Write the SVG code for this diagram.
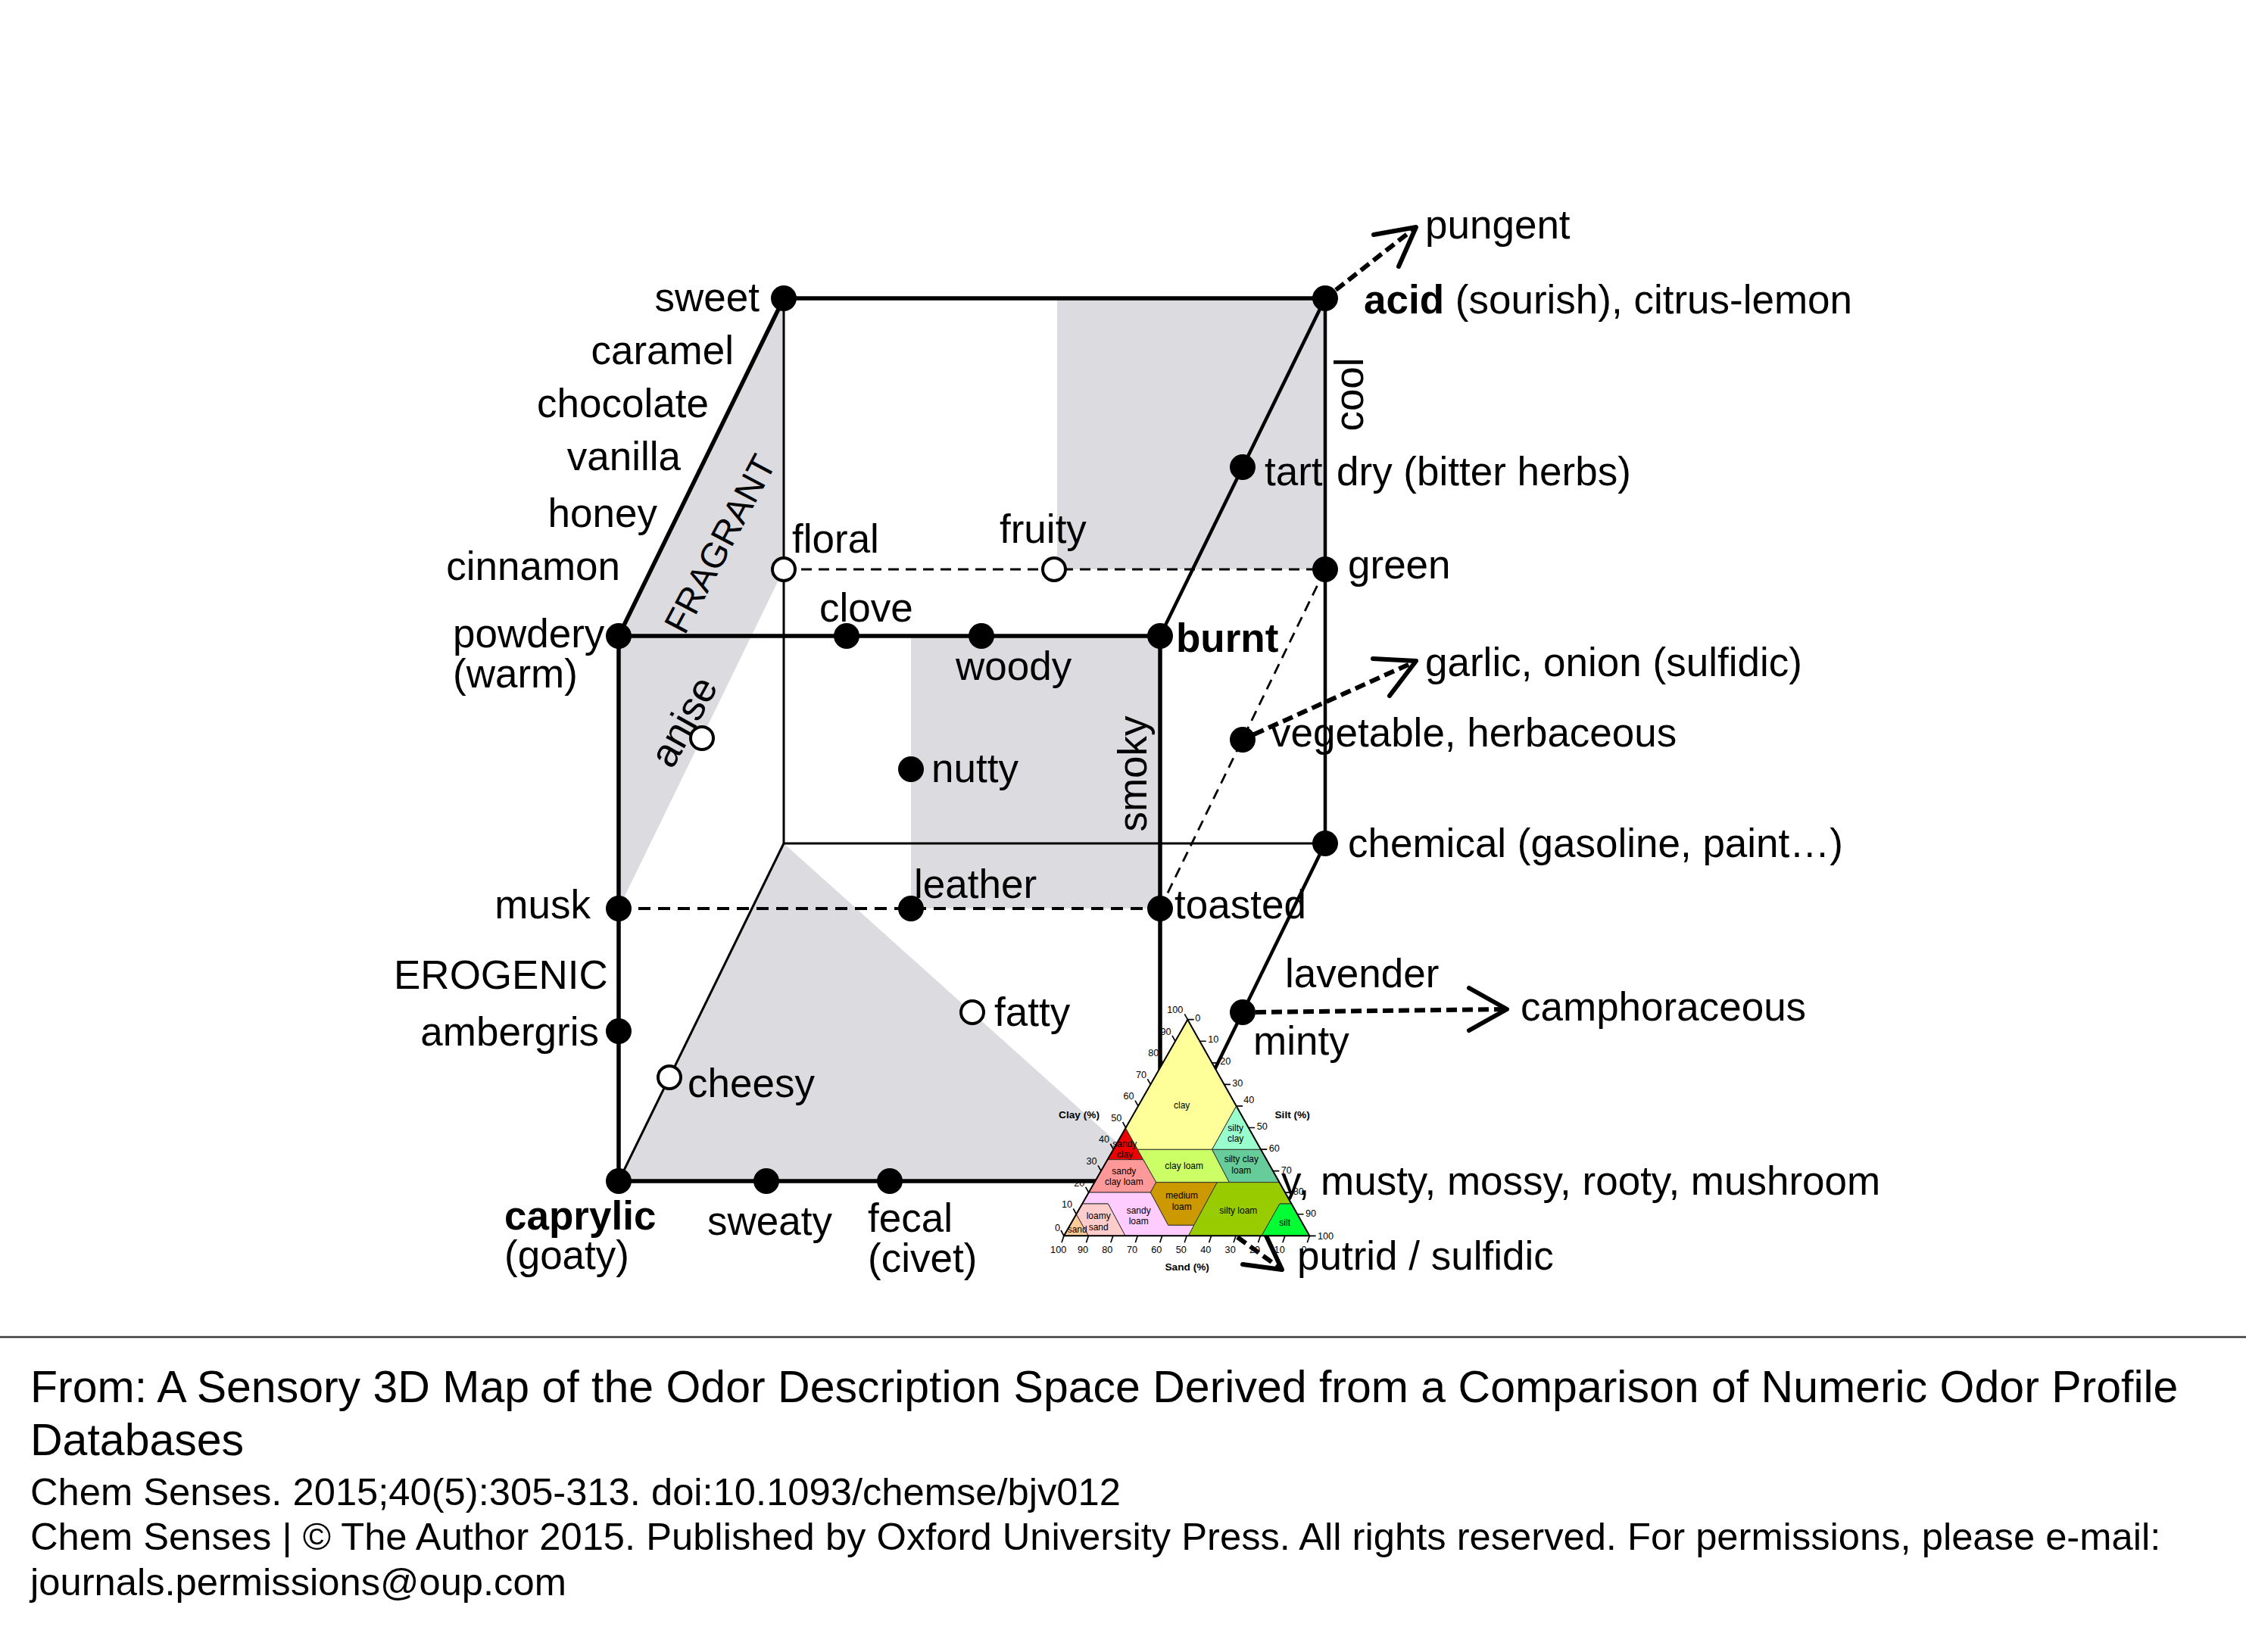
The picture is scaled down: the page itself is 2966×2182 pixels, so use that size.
<svg xmlns="http://www.w3.org/2000/svg" width="2966" height="2182" viewBox="0 0 2966 2182">
<style>
text{font-family:"Liberation Sans",Arial,sans-serif;fill:#000}
.lbl{font-size:53px}
.b{font-weight:bold}
.cap1{font-size:59px}
.cap2{font-size:50.7px}
.gray{fill:#dcdce0;stroke:none}
.e1{stroke:#000;stroke-width:5.5;fill:none;stroke-linecap:round}
.e2{stroke:#000;stroke-width:4.5;fill:none;stroke-linecap:round}
.e3{stroke:#000;stroke-width:3;fill:none}
.d1{stroke:#000;stroke-width:3;fill:none;stroke-dasharray:14 9}
.d2{stroke:#000;stroke-width:4;fill:none;stroke-dasharray:16 10}
.d3{stroke:#000;stroke-width:2.8;fill:none;stroke-dasharray:14 9}
.ar{stroke:#000;stroke-width:6;fill:none;stroke-dasharray:14 7}
.ah{stroke:#000;stroke-width:6;fill:none;stroke-linecap:round;stroke-linejoin:round}
.dot{fill:#000}
.open{fill:#fff;stroke:#000;stroke-width:4}
.reg{stroke:#333;stroke-width:3;stroke-linejoin:round}
.tk{stroke:#000;stroke-width:5;fill:none}
.st{font-size:36px}
.sn{font-size:38px}
.sa{font-size:41px;font-weight:bold}
</style>
<rect width="2966" height="2182" fill="#fff"/>

<g id="shading">
<polygon class="gray" points="1035,394 817,840 817,1200 1035,752"/>
<rect class="gray" x="1396" y="394" width="354" height="358"/>
<rect class="gray" x="1203" y="840" width="329" height="360"/>
<polygon class="gray" points="1035,1114 817,1560 1532,1560"/>
</g>

<g id="connectors">
<line class="e3" x1="1035" y1="394" x2="1035" y2="1114"/>
<line class="e3" x1="1035" y1="1114" x2="1750" y2="1114"/>
<line class="e3" x1="1035" y1="1114" x2="817" y2="1560"/>
<line class="e1" x1="1035" y1="394" x2="1750" y2="394"/>
<line class="e1" x1="1035" y1="394" x2="817" y2="840"/>
<line class="e2" x1="1750" y1="394" x2="1532" y2="840"/>
<line class="e2" x1="1750" y1="394" x2="1750" y2="1114"/>
<line class="e2" x1="1750" y1="1114" x2="1532" y2="1560"/>
<line class="e1" x1="817" y1="840" x2="1532" y2="840"/>
<line class="e1" x1="817" y1="840" x2="817" y2="1560"/>
<line class="e1" x1="1532" y1="840" x2="1532" y2="1560"/>
<line class="e1" x1="817" y1="1560" x2="1532" y2="1560"/>
<line class="d1" x1="1035" y1="752" x2="1750" y2="752"/>
<line class="d2" x1="817" y1="1200" x2="1532" y2="1200"/>
<line class="d3" x1="1532" y1="1200" x2="1750" y2="752"/>
<line class="ar" x1="1764" y1="383" x2="1866" y2="303"/>
<polyline class="ah" points="1814,310 1870,300 1847,352"/>
<line class="ar" x1="1656" y1="970" x2="1866" y2="875"/>
<polyline class="ah" points="1813,870 1870,873 1835,919"/>
<line class="ar" x1="1658" y1="1337" x2="1986" y2="1333"/>
<polyline class="ah" points="1940,1305 1990,1333 1940,1361"/>
<line class="ar" x1="1532" y1="1560" x2="1689" y2="1674"/>
<polyline class="ah" points="1671,1630 1693,1677 1641,1670"/>
</g>

<g id="node-sweet"><circle class="dot" cx="1035" cy="394" r="17"/><text class="lbl" x="1003" y="411" text-anchor="end">sweet</text></g>
<g id="node-acid"><circle class="dot" cx="1750" cy="394" r="17"/><text class="lbl" x="1801" y="414"><tspan class="b">acid</tspan> (sourish), citrus-lemon</text></g>
<g id="node-powdery"><circle class="dot" cx="817" cy="840" r="17"/><text class="lbl" x="598" y="855">powdery</text><text class="lbl" x="598" y="908">(warm)</text></g>
<g id="node-burnt"><circle class="dot" cx="1532" cy="840" r="17"/><text class="lbl b" x="1553" y="861">burnt</text></g>
<g id="node-clove"><circle class="dot" cx="1118" cy="840" r="17"/><text class="lbl" x="1082" y="821">clove</text></g>
<g id="node-woody"><circle class="dot" cx="1296" cy="840" r="17"/><text class="lbl" x="1262" y="898">woody</text></g>
<g id="node-floral"><circle class="open" cx="1035" cy="752" r="15"/><text class="lbl" x="1046" y="730">floral</text></g>
<g id="node-fruity"><circle class="open" cx="1392" cy="752" r="15"/><text class="lbl" x="1320" y="717">fruity</text></g>
<g id="node-green"><circle class="dot" cx="1750" cy="752" r="17"/><text class="lbl" x="1780" y="764">green</text></g>
<g id="node-tart"><circle class="dot" cx="1641" cy="617" r="17"/><text class="lbl" x="1670" y="641">tart</text></g>
<g id="label-dry"><text class="lbl" x="1765" y="641">dry (bitter herbs)</text></g>
<g id="node-nutty"><circle class="dot" cx="1203" cy="1016" r="17"/><text class="lbl" x="1230" y="1033">nutty</text></g>
<g id="node-anise"><circle class="open" cx="927" cy="975" r="15"/><text class="lbl" transform="translate(908 956) rotate(-61)" x="0" y="12" text-anchor="middle">anise</text></g>
<g id="node-vegetable"><circle class="dot" cx="1641" cy="977" r="17"/><text class="lbl" x="1678" y="986">vegetable, herbaceous</text></g>
<g id="node-chemical"><circle class="dot" cx="1750" cy="1114" r="17"/><text class="lbl" x="1780" y="1132">chemical (gasoline, paint…)</text></g>
<g id="node-musk"><circle class="dot" cx="817" cy="1200" r="17"/><text class="lbl" x="780" y="1213" text-anchor="end">musk</text></g>
<g id="node-leather"><circle class="dot" cx="1203" cy="1200" r="17"/><text class="lbl" x="1207" y="1186">leather</text></g>
<g id="node-toasted"><circle class="dot" cx="1532" cy="1200" r="17"/><text class="lbl" x="1551" y="1213">toasted</text></g>
<g id="node-minty"><circle class="dot" cx="1641" cy="1337" r="17"/><text class="lbl" x="1697" y="1304">lavender</text><text class="lbl" x="1655" y="1393">minty</text></g>
<g id="node-fatty"><circle class="open" cx="1284" cy="1337" r="15"/><text class="lbl" x="1313" y="1355">fatty</text></g>
<g id="node-ambergris"><circle class="dot" cx="817" cy="1362" r="17"/><text class="lbl" x="791" y="1381" text-anchor="end">ambergris</text></g>
<g id="node-cheesy"><circle class="open" cx="884" cy="1423" r="15"/><text class="lbl" x="908" y="1449">cheesy</text></g>
<g id="node-caprylic"><circle class="dot" cx="817" cy="1560" r="17"/><text class="lbl b" x="666" y="1624">caprylic</text><text class="lbl" x="666" y="1676">(goaty)</text></g>
<g id="node-sweaty"><circle class="dot" cx="1012" cy="1560" r="17"/><text class="lbl" x="934" y="1631">sweaty</text></g>
<g id="node-fecal"><circle class="dot" cx="1175" cy="1560" r="17"/><text class="lbl" x="1146" y="1627">fecal</text><text class="lbl" x="1146" y="1680">(civet)</text></g>

<g id="labels">
<text class="lbl" x="969" y="481" text-anchor="end">caramel</text>
<text class="lbl" x="936" y="551" text-anchor="end">chocolate</text>
<text class="lbl" x="899" y="621" text-anchor="end">vanilla</text>
<text class="lbl" x="868" y="696" text-anchor="end">honey</text>
<text class="lbl" x="819" y="766" text-anchor="end">cinnamon</text>
<text class="lbl" x="520" y="1306">EROGENIC</text>
<text class="lbl" style="font-size:47px" transform="translate(950 718) rotate(-62)" x="0" y="17" text-anchor="middle">FRAGRANT</text>
<text class="lbl" transform="translate(1514 1022) rotate(-90)" x="0" y="0" text-anchor="middle">smoky</text>
<text class="lbl" transform="translate(1800 521) rotate(-90)" x="0" y="0" text-anchor="middle">cool</text>
<text class="lbl" x="1882" y="315">pungent</text>
<text class="lbl" x="1882" y="893">garlic, onion (sulfidic)</text>
<text class="lbl" x="2008" y="1348">camphoraceous</text>
<text class="lbl" x="1692" y="1578">y, musty, mossy, rooty, mushroom</text>
<text class="lbl" x="1713" y="1677">putrid / sulfidic</text>
</g>

<g id="soil-triangle" transform="translate(1350 1300) scale(0.33333)">
<polygon class="reg" fill="#ffff99" points="655,140 848,483 752,655 457,655 409,570"/>
<polygon class="reg" fill="#99ffcc" points="848,483 945,655 752,655"/>
<polygon class="reg" fill="#ee0000" points="409,570 479,695 338,695"/>
<polygon class="reg" fill="#ccff66" points="457,655 752,655 820,785 530,785"/>
<polygon class="reg" fill="#66cc99" points="752,655 945,655 1018,785 820,785"/>
<polygon class="reg" fill="#ff9999" points="338,695 479,695 530,785 508,825 263,825"/>
<polygon class="reg" fill="#cc9900" points="530,785 772,785 680,955 578,955 508,825"/>
<polygon class="reg" fill="#99cc00" points="772,785 1018,785 1066,870 1020,870 948,997 658,997 680,955"/>
<polygon class="reg" fill="#00ff33" points="1020,870 1066,870 1138,997 948,997"/>
<polygon class="reg" fill="#ffccff" points="263,825 508,825 578,955 680,955 658,997 408,997 340,870 238,870"/>
<polygon class="reg" fill="#ffcccc" points="238,870 340,870 408,997 262,997 214,912"/>
<polygon class="reg" fill="#ffcc99" points="214,912 262,997 165,997"/>
<polygon points="655,140 1138,997 165,997" fill="none" stroke="#000" stroke-width="6" stroke-linejoin="miter"/>
<g class="st" text-anchor="middle">
<text x="632" y="492">clay</text>
<text x="845" y="582">silty</text><text x="845" y="624">clay</text>
<text x="406" y="644">sandy</text><text x="407" y="687">clay</text>
<text x="641" y="732">clay loam</text>
<text x="868" y="705">silty clay</text><text x="868" y="749">loam</text>
<text x="403" y="752">sandy</text><text x="403" y="795">clay loam</text>
<text x="632" y="850">medium</text><text x="632" y="893">loam</text>
<text x="856" y="910">silty loam</text>
<text x="461" y="910">sandy</text><text x="461" y="952">loam</text>
<text x="302" y="930">loamy</text><text x="302" y="974">sand</text>
<text x="218" y="984">sand</text>
<text x="1040" y="957">silt</text>
</g>
<path class="tk" d="M655,140 l-12,-22 M606,225.7 l-12,-22 M557,311.4 l-12,-22 M508,397.1 l-12,-22 M459,482.8 l-12,-22 M410,568.5 l-12,-22 M361,654.2 l-12,-22 M312,739.9 l-12,-22 M263,825.6 l-12,-22 M214,911.3 l-12,-22 M165,997 l-12,-22"/>
<path class="tk" d="M655,140 h25 M703.3,225.7 h25 M751.6,311.4 h25 M799.9,397.1 h25 M848.2,482.8 h25 M896.5,568.5 h25 M944.8,654.2 h25 M993.1,739.9 h25 M1041.4,825.6 h25 M1089.7,911.3 h25 M1138,997 h25"/>
<path class="tk" d="M165,997 l-9,27 M262.3,997 l-9,27 M359.6,997 l-9,27 M456.9,997 l-9,27 M554.2,997 l-9,27 M651.5,997 l-9,27 M748.8,997 l-9,27 M846.1,997 l-9,27 M943.4,997 l-9,27 M1040.7,997 l-9,27 M1138,997 l-9,27"/>
<g class="sn" text-anchor="end">
<text x="637" y="114">100</text><text x="590" y="200">90</text><text x="541" y="286">80</text><text x="492" y="371">70</text><text x="443" y="457">60</text><text x="394" y="543">50</text><text x="345" y="628">40</text><text x="296" y="714">30</text><text x="247" y="800">20</text><text x="198" y="886">10</text><text x="150" y="978">0</text>
</g>
<g class="sn">
<text x="685" y="146">0</text><text x="736" y="232">10</text><text x="784" y="318">20</text><text x="832" y="404">30</text><text x="877" y="470">40</text><text x="929" y="577">50</text><text x="977" y="663">60</text><text x="1025" y="749">70</text><text x="1073" y="834">80</text><text x="1122" y="920">90</text><text x="1170" y="1010">100</text>
</g>
<g class="sn" text-anchor="middle">
<text x="143" y="1066">100</text><text x="240" y="1066">90</text><text x="337" y="1066">80</text><text x="435" y="1066">70</text><text x="532" y="1066">60</text><text x="629" y="1066">50</text><text x="727" y="1066">40</text><text x="824" y="1066">30</text><text x="921" y="1066">20</text><text x="1019" y="1066">10</text><text x="1116" y="1066">0</text>
</g>
<text class="sa" x="225" y="531" text-anchor="middle">Clay (%)</text>
<text class="sa" x="1070" y="531" text-anchor="middle">Silt (%)</text>
<text class="sa" x="653" y="1134" text-anchor="middle">Sand (%)</text>
</g>

<g id="caption">
<line x1="0" y1="1766" x2="2966" y2="1766" stroke="#3a3a3a" stroke-width="2.5"/>
<text class="cap1" x="40" y="1852">From: A Sensory 3D Map of the Odor Description Space Derived from a Comparison of Numeric Odor Profile</text>
<text class="cap1" x="40" y="1922">Databases</text>
<text class="cap2" x="40" y="1988">Chem Senses. 2015;40(5):305-313. doi:10.1093/chemse/bjv012</text>
<text class="cap2" x="40" y="2047">Chem Senses | © The Author 2015. Published by Oxford University Press. All rights reserved. For permissions, please e-mail:</text>
<text class="cap2" x="40" y="2107">journals.permissions@oup.com</text>
</g>
</svg>
